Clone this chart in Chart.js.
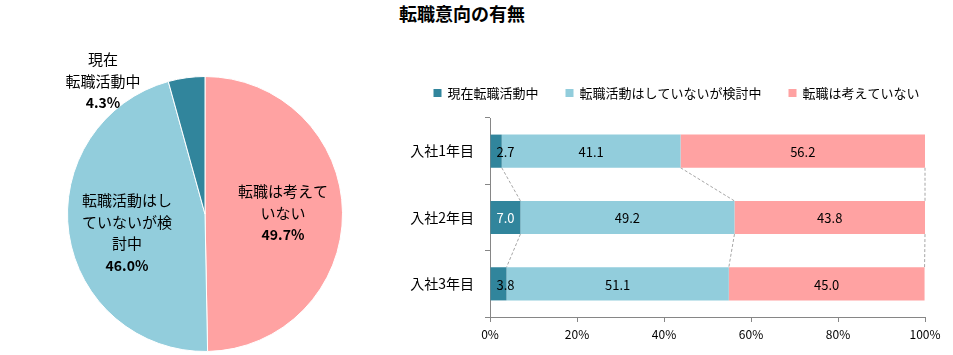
<!DOCTYPE html>
<html>
<head>
<meta charset="utf-8">
<script src="https://cdn.jsdelivr.net/npm/chart.js@4.4.1/dist/chart.umd.min.js"></script>
<style>
html,body{margin:0;padding:0;background:#fff;}
body{width:953px;height:355px;overflow:hidden;position:relative;font-family:"Noto Sans CJK JP","Noto Sans",sans-serif;}
#title{position:absolute;left:0;top:2px;width:924px;text-align:center;font-weight:bold;font-size:18px;line-height:22px;color:#000;}
#pieWrap{position:absolute;left:0;top:30px;width:410px;height:325px;}
#barWrap{position:absolute;left:400px;top:60px;width:553px;height:295px;}
canvas{display:block;}
</style>
</head>
<body>
<div id="title">転職意向の有無</div>
<div id="pieWrap"><canvas id="pie" width="410" height="325"></canvas></div>
<div id="barWrap"><canvas id="bar" width="553" height="295"></canvas></div>
<script>
// ---- Data ----
const pieCategories = ["転職は考えていない", "転職活動はしていないが検討中", "現在転職活動中"];
const pieValues = [49.7, 46.0, 4.3];
const pieLabelLines = [["転職は考えて", "いない"], ["転職活動はし", "ていないが検", "討中"], ["現在", "転職活動中"]];

const barCategories = ["入社1年目", "入社2年目", "入社3年目"];
const seriesNames = ["現在転職活動中", "転職活動はしていないが検討中", "転職は考えていない"];
const activeValues = [2.7, 7.0, 3.8];
const consideringValues = [41.1, 49.2, 51.1];
const notConsideringValues = [56.2, 43.8, 45.0];
const xTickValues = [0, 20, 40, 60, 80, 100];

// ---- Styles ----
const COL_TEAL = "#31859C", COL_BLUE = "#92CDDC", COL_PINK = "#FFA2A2";
const FONT = '"Noto Sans CJK JP", "Noto Sans", sans-serif';
Chart.defaults.font.family = FONT;
Chart.defaults.color = "#000";

// label offsets (px from pie centre) for each slice
const pieLabelOffsets = [[78, -1], [-78, 19], [-102, -133]];

const pieLabelPlugin = {
  id: "pieLabels",
  afterDatasetsDraw(chart) {
    const ctx = chart.ctx;
    const meta = chart.getDatasetMeta(0);
    const lh = 21.5;
    ctx.save();
    ctx.textAlign = "center";
    ctx.textBaseline = "middle";
    ctx.fillStyle = "#000";
    meta.data.forEach((arc, i) => {
      const lines = pieLabelLines[i];
      const n = lines.length + 1;
      const cx = arc.x + pieLabelOffsets[i][0];
      const cy = arc.y + pieLabelOffsets[i][1];
      let y = cy - (n - 1) * lh / 2;
      ctx.font = "15px " + FONT;
      lines.forEach(t => { ctx.fillText(t, cx, y); y += lh; });
      ctx.font = "bold 14px " + FONT;
      ctx.fillText(chart.data.datasets[0].data[i].toFixed(1) + "%", cx, y);
    });
    ctx.restore();
  }
};

new Chart(document.getElementById("pie"), {
  type: "pie",
  data: {
    labels: pieCategories,
    datasets: [{
      data: pieValues,
      backgroundColor: [COL_PINK, COL_BLUE, COL_TEAL],
      borderColor: "#fff",
      borderWidth: 1
    }]
  },
  options: {
    responsive: false,
    animation: false,
    layout: { padding: { top: 46, bottom: 3, left: 0, right: 0 } },
    plugins: { legend: { display: false }, tooltip: { enabled: false } }
  },
  plugins: [pieLabelPlugin]
});

// ---- Bar chart plugins ----
const seriesLinePlugin = {
  id: "seriesLines",
  beforeDatasetsDraw(chart) {
    const ctx = chart.ctx;
    ctx.save();
    ctx.strokeStyle = "#A6A6A6";
    ctx.lineWidth = 1;
    ctx.setLineDash([3, 2]);
    chart.data.datasets.forEach((ds, d) => {
      const els = chart.getDatasetMeta(d).data;
      for (let i = 0; i < els.length - 1; i++) {
        const a = els[i], b = els[i + 1];
        ctx.beginPath();
        ctx.moveTo(a.x, a.y + a.height / 2);
        ctx.lineTo(b.x, b.y - b.height / 2);
        ctx.stroke();
      }
    });
    ctx.restore();
  }
};

const labelColors = [["#000", "#fff", "#000"], ["#000", "#000", "#000"], ["#000", "#000", "#000"]];
const barLabelPlugin = {
  id: "barLabels",
  afterDatasetsDraw(chart) {
    const ctx = chart.ctx;
    ctx.save();
    ctx.font = "13px " + FONT;
    ctx.textAlign = "center";
    ctx.textBaseline = "middle";
    chart.data.datasets.forEach((ds, d) => {
      chart.getDatasetMeta(d).data.forEach((el, i) => {
        const t = ds.data[i].toFixed(1);
        const w = ctx.measureText(t).width;
        let x = (el.x + el.base) / 2;
        x = Math.max(x, Math.min(el.x, el.base) + w / 2 + 6);
        ctx.fillStyle = labelColors[d][i];
        ctx.fillText(t, x, el.y + 1);
      });
    });
    ctx.restore();
  }
};

const legendPlugin = {
  id: "customLegend",
  afterDraw(chart) {
    const ctx = chart.ctx;
    ctx.save();
    ctx.font = "13px " + FONT;
    ctx.textBaseline = "middle";
    ctx.textAlign = "left";
    const box = 8, gap = 6, spacing = 27, cy = 33;
    const items = chart.data.datasets.map(ds => ({ label: ds.label, color: ds.backgroundColor, w: ctx.measureText(ds.label).width }));
    const total = items.reduce((s, it) => s + box + gap + it.w, 0) + spacing * (items.length - 1);
    let x = (chart.width - total) / 2;
    items.forEach(it => {
      ctx.fillStyle = it.color;
      ctx.fillRect(x, cy - box / 2, box, box);
      ctx.fillStyle = "#000";
      ctx.fillText(it.label, x + box + gap, cy);
      x += box + gap + it.w + spacing;
    });
    ctx.restore();
  }
};

new Chart(document.getElementById("bar"), {
  type: "bar",
  data: {
    labels: barCategories,
    datasets: [
      { label: seriesNames[0], data: activeValues, backgroundColor: COL_TEAL },
      { label: seriesNames[1], data: consideringValues, backgroundColor: COL_BLUE },
      { label: seriesNames[2], data: notConsideringValues, backgroundColor: COL_PINK }
    ]
  },
  options: {
    indexAxis: "y",
    responsive: false,
    animation: false,
    datasets: { bar: { categoryPercentage: 1, barPercentage: 0.5 } },
    layout: { padding: { top: 58, right: 28, left: 0, bottom: 0 } },
    plugins: { legend: { display: false }, tooltip: { enabled: false } },
    scales: {
      x: {
        stacked: true, min: 0, max: 100,
        afterBuildTicks: s => { s.ticks = xTickValues.map(v => ({ value: v })); },
        ticks: { callback: v => v + "%", color: "#000", font: { size: 12 }, padding: 5, maxRotation: 0 },
        grid: { drawOnChartArea: false, drawTicks: true, tickLength: 5, color: "#868686" },
        border: { color: "#868686" },
        afterFit: s => { s.height = 38; }
      },
      y: {
        stacked: true,
        ticks: { color: "#000", font: { size: 14 }, padding: 11 },
        grid: { drawOnChartArea: false, drawTicks: true, tickLength: 5, color: "#868686", offset: true },
        border: { color: "#868686" },
        afterFit: s => { s.width = 90; }
      }
    }
  },
  plugins: [seriesLinePlugin, barLabelPlugin, legendPlugin]
});
</script>
</body>
</html>
